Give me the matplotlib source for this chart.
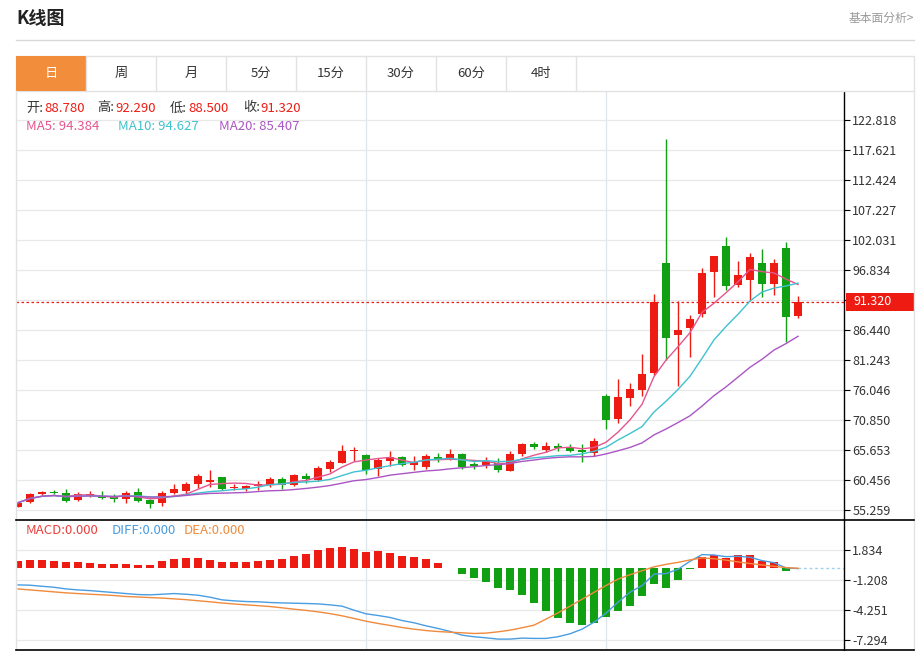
import matplotlib
matplotlib.use('Agg')
import matplotlib.pyplot as plt
import numpy as np
import pandas as pd
from matplotlib.patches import Rectangle
from matplotlib.transforms import blended_transform_factory

# ---- data (daily candles) ----
opens = [55.83, 56.60, 57.98, 58.43, 58.26, 57.00, 57.74, 57.74, 57.56, 57.22,
         58.38, 56.99, 56.42, 58.15, 58.60, 59.71, 60.16, 60.92, 59.07, 58.90,
         59.42, 59.54, 60.63, 59.54, 61.15, 60.46, 62.42, 63.40, 65.45, 64.76,
         62.31, 63.75, 64.49, 63.00, 62.76, 64.49, 64.27, 64.90, 63.17, 63.05,
         63.34, 62.07, 64.90, 66.69, 65.65, 66.35, 66.12, 65.65, 65.07, 75.06,
         71.02, 74.60, 76.05, 78.93, 97.99, 85.63, 86.73, 89.21, 96.54, 100.99,
         94.24, 95.10, 98.10, 94.41, 100.59, 88.78]
highs = [56.70, 58.20, 58.60, 58.78, 58.85, 58.38, 58.50, 58.50, 57.98, 58.60,
         59.00, 57.20, 58.60, 59.71, 60.10, 61.50, 62.19, 61.00, 59.80, 59.60,
         60.30, 60.90, 60.90, 61.50, 61.60, 62.80, 64.00, 66.50, 66.20, 64.90,
         64.20, 65.53, 64.70, 64.60, 64.90, 65.10, 65.77, 65.10, 63.50, 64.40,
         64.20, 65.50, 66.90, 67.00, 67.10, 66.90, 66.70, 66.69, 67.78, 75.35,
         78.00, 77.25, 82.23, 92.60, 119.47, 91.46, 89.04, 97.23, 99.26, 102.49,
         98.44, 99.73, 100.47, 98.68, 101.74, 92.29]
lows = [55.73, 56.40, 57.86, 57.98, 56.59, 56.82, 57.50, 57.20, 56.60, 56.40,
        56.70, 55.60, 55.90, 57.97, 58.00, 59.10, 59.30, 58.70, 58.70, 58.50,
        58.70, 59.20, 58.90, 59.40, 60.00, 60.20, 61.90, 63.35, 63.70, 61.44,
        61.20, 62.93, 62.80, 62.20, 62.40, 63.60, 64.00, 62.40, 62.30, 62.60,
        61.90, 62.00, 64.70, 65.90, 65.30, 65.50, 65.30, 63.63, 64.61, 69.24,
        70.38, 73.30, 75.00, 78.65, 81.24, 76.74, 81.82, 88.74, 92.21, 93.37,
        93.94, 91.52, 92.21, 92.50, 84.41, 88.50]
closes = [56.52, 57.98, 58.43, 58.15, 56.81, 57.98, 57.98, 57.39, 57.22, 58.26,
          56.82, 56.30, 58.15, 58.85, 59.81, 61.15, 60.46, 58.90, 59.30, 59.47,
          59.71, 60.68, 59.54, 61.27, 60.63, 62.59, 63.52, 65.48, 65.73, 62.25,
          63.92, 64.49, 63.11, 63.63, 64.61, 63.97, 64.96, 62.76, 62.93, 63.80,
          62.19, 64.96, 66.69, 66.12, 66.35, 66.00, 65.48, 65.36, 67.27, 70.85,
          74.78, 76.16, 78.80, 91.34, 85.00, 86.44, 88.35, 96.37, 99.26, 94.06,
          95.97, 99.03, 94.41, 98.10, 88.75, 91.32]

macd_hist = [0.71, 0.88, 0.88, 0.78, 0.61, 0.68, 0.57, 0.47, 0.44, 0.44,
             0.30, 0.37, 0.71, 0.91, 1.05, 1.08, 0.88, 0.61, 0.64, 0.68,
             0.74, 0.88, 0.95, 1.22, 1.42, 1.83, 2.03, 2.20, 2.00, 1.66,
             1.72, 1.56, 1.28, 1.15, 0.95, 0.52, 0.07, -0.57, -1.01, -1.42,
             -1.96, -2.18, -2.70, -3.52, -4.31, -5.02, -5.60, -5.81, -5.56, -4.97,
             -4.39, -3.79, -2.84, -1.57, -1.96, -1.22, -0.08, 1.12, 1.35, 1.01,
             1.32, 1.38, 0.78, 0.66, -0.30, 0.0]
diff = [-1.69, -1.72, -1.83, -1.93, -2.10, -2.20, -2.27, -2.37, -2.47, -2.57,
        -2.67, -2.70, -2.64, -2.57, -2.64, -2.74, -2.94, -3.21, -3.31, -3.38,
        -3.41, -3.48, -3.52, -3.55, -3.58, -3.62, -3.72, -3.85, -4.26, -4.63,
        -4.80, -5.00, -5.31, -5.54, -5.85, -6.12, -6.42, -6.80, -6.96, -7.07,
        -7.20, -7.20, -7.10, -7.13, -7.13, -6.96, -6.66, -6.19, -5.48, -4.56,
        -3.45, -2.43, -1.76, -0.60, -0.54, -0.10, 0.71, 1.39, 1.35, 1.18,
        1.22, 1.12, 0.78, 0.57, 0.03, -0.03]
dea = [-2.10, -2.20, -2.30, -2.40, -2.50, -2.57, -2.64, -2.70, -2.77, -2.87,
       -2.92, -2.98, -3.03, -3.11, -3.19, -3.30, -3.41, -3.53, -3.63, -3.72,
       -3.80, -3.89, -4.02, -4.16, -4.28, -4.43, -4.61, -4.83, -5.10, -5.38,
       -5.61, -5.81, -6.02, -6.19, -6.33, -6.43, -6.50, -6.56, -6.63, -6.59,
       -6.46, -6.29, -6.05, -5.78, -5.17, -4.53, -3.85, -3.15, -2.45, -1.75,
       -1.10, -0.65, -0.25, 0.15, 0.40, 0.60, 0.85, 1.05, 0.97, 0.83,
       0.65, 0.48, 0.34, 0.20, 0.07, 0.0]

month_starts = [29, 49]
price_ticks = [55.259, 60.456, 65.653, 70.850, 76.046, 81.243, 86.440, 91.637,
               96.834, 102.031, 107.227, 112.424, 117.621, 122.818]
macd_ticks = [1.834, -1.208, -4.251, -7.294]
tabs = ['日', '周', '月', '5分', '15分', '30分', '60分', '4时']
ma_labels = ['MA5: 94.384', 'MA10: 94.627', 'MA20: 85.407']
macd_labels = ['MACD:0.000', 'DIFF:0.000', 'DEA:0.000']

RED = '#ee1b13'
GREEN = '#10a012'
MA_COLORS = ['#e5558f', '#3fc2cf', '#ab55c4']
DIFF_C = '#4a9de0'
DEA_C = '#f08a3c'
GRID = '#e8e8e8'

plt.rcParams['font.family'] = ['Noto Sans CJK SC', 'DejaVu Sans']

o = np.array(opens); h = np.array(highs); l = np.array(lows); c = np.array(closes)
x = np.arange(len(c))
cols = np.where(c >= o, RED, GREEN)
ma = [pd.Series(c).rolling(n, min_periods=1).mean() for n in (5, 10, 20)]

fig = plt.figure(figsize=(9.24, 6.51), dpi=100)
ax = fig.add_axes([16/924, 1-520/651, 828/924, 428/651])
ax2 = fig.add_axes([16/924, 1/651, 828/924, 129/651])

# price panel
ax.vlines(x, l, h, colors=cols, lw=1, zorder=2)
ax.bar(x, np.maximum(np.abs(c-o), 0.25), bottom=np.minimum(o, c), width=0.72,
       color=cols, lw=0, zorder=3)
for m, col in zip(ma, MA_COLORS):
    ax.plot(x, m, color=col, lw=1, zorder=4)
ax.axhline(c[-1], color=RED, lw=0.9, ls=(0, (2, 2)), zorder=1)
ax.set_xlim(-0.167, 68.83)
ax.set_ylim(53.527, 127.668)
ax.set_yticks(price_ticks)
ax.set_yticklabels([f'{v:.3f}' for v in price_ticks])

# macd panel
ax2.bar(x, macd_hist, width=0.7, color=np.where(np.array(macd_hist) >= 0, RED, GREEN),
        lw=0, zorder=2)
ax2.plot(x, diff, color=DIFF_C, lw=1, zorder=3)
ax2.plot(x, dea, color=DEA_C, lw=1, zorder=3)
ax2.hlines(macd_hist[-1], x[-1], 68.83, colors='#9fd0f0', lw=1, ls=(0, (2, 2)))
ax2.set_xlim(-0.167, 68.83)
ax2.set_ylim(-8.308, 4.806)
ax2.set_yticks(macd_ticks)
ax2.set_yticklabels([f'{v:.3f}' for v in macd_ticks])

for a in (ax, ax2):
    a.set_xticks([])
    a.yaxis.tick_right()
    a.tick_params(axis='y', length=4, width=0.8, pad=2, labelsize=9,
                  colors='black', labelcolor='#333333')
    a.yaxis.grid(True, color=GRID, lw=0.9)
    a.set_axisbelow(True)
    for s in ('top', 'left', 'bottom'):
        a.spines[s].set_visible(False)
    a.spines['right'].set_color('black')
    a.spines['right'].set_linewidth(1)
    for ms in month_starts:
        a.axvline(ms, color='#dfe5ec', lw=0.9, zorder=0)

# last price tag
tr = blended_transform_factory(ax.transAxes, ax.transData)
ax.add_patch(Rectangle((1.003, c[-1] - 1.55), 0.0815, 3.1, transform=tr,
                       clip_on=False, color=RED, lw=0, zorder=6))
ax.text(1.011, c[-1], f'{c[-1]:.3f}', transform=tr, color='white', fontsize=9,
        va='center', ha='left', zorder=7, clip_on=False)

# frame, header and tabs in pixel coordinates
fg = fig.add_axes([0, 0, 1, 1], zorder=10)
fg.set_xlim(0, 924)
fg.set_ylim(651, 0)
fg.axis('off')
fg.patch.set_alpha(0)

fg.text(16, 19, 'K线图', fontsize=13, fontweight='bold', va='center', ha='left', color='#222222')
fg.text(914, 18, '基本面分析>', fontsize=8.5, va='center', ha='right', color='#999999')
fg.plot([16, 914], [39.5, 39.5], color='#d9d9d9', lw=1)

fg.add_patch(Rectangle((16, 56), 898, 35, fc='none', ec='#e2e2e2', lw=1))
fg.add_patch(Rectangle((16, 56), 70, 35, fc='#f28d3c', ec='none'))
for k, t in enumerate(tabs):
    xc = 16 + 70 * k + 35
    fg.text(xc, 73.5, t, fontsize=9.5, ha='center', va='center',
            color='white' if k == 0 else '#333333')
    if k > 0:
        fg.plot([16 + 70 * k, 16 + 70 * k], [56, 91], color='#e2e2e2', lw=1)
fg.plot([16 + 70 * len(tabs)] * 2, [56, 91], color='#e2e2e2', lw=1)

fg.plot([16, 16], [91, 650], color='#e2e2e2', lw=1)
fg.plot([914, 914], [91, 650], color='#e2e2e2', lw=1)
fg.plot([16, 914], [520, 520], color='black', lw=1.2)
fg.plot([16, 914], [650, 650], color='black', lw=1.2)

info = [('开:', '#333333', 26), ('88.780', RED, 44), ('高:', '#333333', 97),
        ('92.290', RED, 115), ('低:', '#333333', 170), ('88.500', RED, 188),
        ('收:', '#333333', 243), ('91.320', RED, 260)]
for t, col, px in info:
    fg.text(px, 108, t, fontsize=9.5, color=col, va='center', ha='left')
for t, col, px in zip(ma_labels, MA_COLORS, [26, 118, 219]):
    fg.text(px, 126, t, fontsize=9.5, color=col, va='center', ha='left')
for t, col, px in zip(macd_labels, ['#e8403c', DIFF_C, DEA_C], [26, 112, 184]):
    fg.text(px, 531, t, fontsize=9.5, color=col, va='center', ha='left')

fig.savefig('out.png', dpi=100)
